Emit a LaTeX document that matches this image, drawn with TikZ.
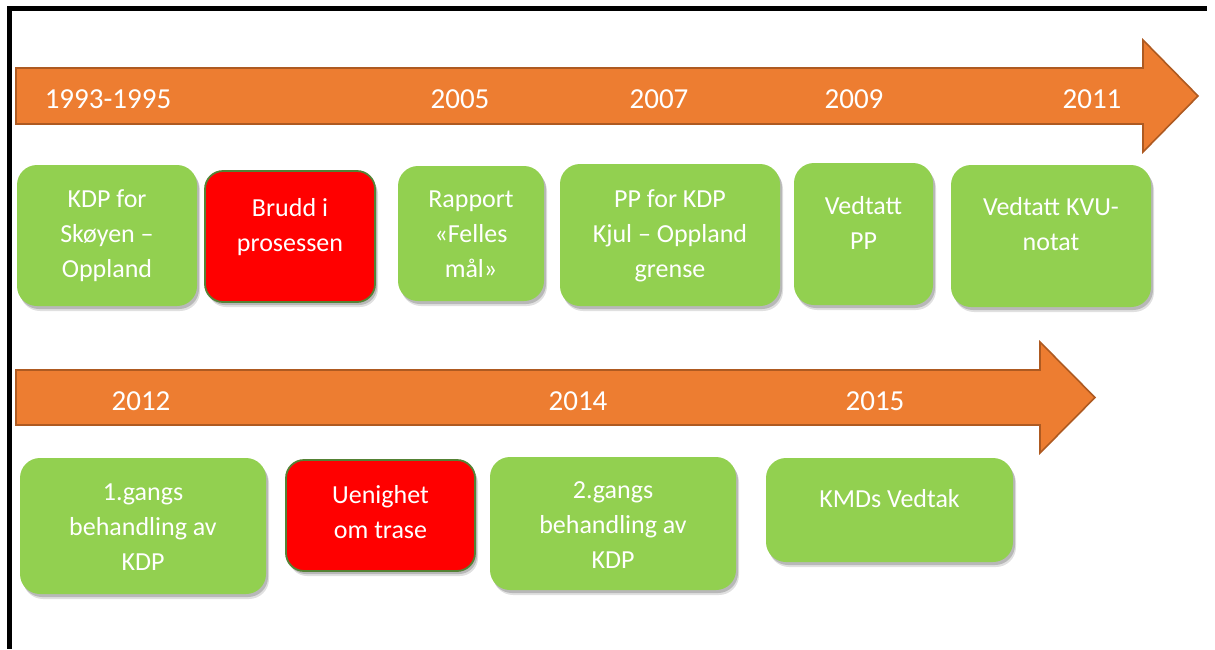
\documentclass[tikz,border=0pt]{standalone}
\usepackage{fontspec}
\setmainfont{Carlito}
\usetikzlibrary{shadows}
\definecolor{arroworange}{HTML}{ED7D31}
\definecolor{arrowedge}{HTML}{AE5A21}
\definecolor{boxgreen}{HTML}{92D050}
\definecolor{boxred}{HTML}{FF0000}
\definecolor{rededge}{HTML}{548235}
\tikzset{
  frameline/.style={line width=4.6pt, black},
  timearrow/.style={fill=arroworange, draw=arrowedge, line width=1.6pt, line join=miter},
  yeartext/.style={text=white, font=\fontsize{29}{35}\selectfont, anchor=base, inner sep=0pt},
  boxtext/.style={text=white, font=\fontsize{26}{35}\selectfont, anchor=base, align=center, inner sep=0pt},
  softshadow/.style={
    preaction={fill=black, opacity=0.12, transform canvas={xshift=3pt, yshift=-5pt}},
    preaction={fill=black, opacity=0.18, transform canvas={xshift=2pt, yshift=-3pt}}},
  box/.style={rounded corners=20pt, inner sep=0pt, softshadow},
  greenbox/.style={box, fill=boxgreen},
  redbox/.style={box, fill=boxred, draw=rededge, line width=1.8pt, rounded corners=18pt},
}
\begin{document}
\begin{tikzpicture}[x=1pt,y=-1pt]
\useasboundingbox (0,0) rectangle (1215,649);
% frame
\coordinate (fl1) at (9.7,6);
\coordinate (fl2) at (9.7,649);
\coordinate (ft1) at (7.4,8.5);
\coordinate (ft2) at (1207,8.5);
\draw[frameline] (fl1) -- (fl2);
\draw[frameline] (ft1) -- (ft2);
% arrows
\draw[timearrow] (16,68) -- (1143,68) -- (1143,40) -- (1198,96) -- (1143,152) -- (1143,124) -- (16,124) -- cycle;
\draw[timearrow] (16,370) -- (1040,370) -- (1040,342) -- (1095,397.5) -- (1040,453) -- (1040,425) -- (16,425) -- cycle;
% years
\node[yeartext] (y1) at (108,108) {1993-1995};
\node[yeartext] (y2) at (460,108) {2005};
\node[yeartext] (y3) at (659,108) {2007};
\node[yeartext] (y4) at (854,108) {2009};
\node[yeartext] (y5) at (1092,108) {2011};
\node[yeartext] (y6) at (141,410) {2012};
\node[yeartext] (y7) at (578,410) {2014};
\node[yeartext] (y8) at (875,410) {2015};
% row 1 boxes
\node[greenbox, minimum width=180pt, minimum height=141pt] (b1) at (107,235.5) {};
\node[redbox, minimum width=170pt, minimum height=131pt] (b2) at (290,236.5) {};
\node[greenbox, minimum width=146pt, minimum height=135pt] (b3) at (471,233.5) {};
\node[greenbox, minimum width=220pt, minimum height=142pt] (b4) at (670,235) {};
\node[greenbox, minimum width=139pt, minimum height=142pt] (b5) at (863.5,234) {};
\node[greenbox, minimum width=200pt, minimum height=142pt] (b6) at (1051,236) {};
% row 2 boxes
\node[greenbox, minimum width=246pt, minimum height=136pt] (c1) at (143,526) {};
\node[redbox, minimum width=189pt, minimum height=111pt] (c2) at (380.5,515.5) {};
\node[greenbox, minimum width=246pt, minimum height=133pt] (c3) at (613,523.5) {};
\node[greenbox, minimum width=247pt, minimum height=104pt] (c4) at (889.5,510) {};
% texts (anchor = baseline of last line)
\node[boxtext] (tb1) at (107,277) {KDP for\\Skøyen –\\Oppland};
\node[boxtext] (tb2) at (290,251) {Brudd i\\prosessen};
\node[boxtext] (tb3) at (471,277) {Rapport\\«Felles\\mål»};
\node[boxtext] (tb4) at (670,277) {PP for KDP\\Kjul – Oppland\\grense};
\node[boxtext] (tb5) at (863.5,249) {Vedtatt\\PP};
\node[boxtext] (tb6) at (1051,250) {Vedtatt KVU-\\notat};
\node[boxtext] (tc1) at (143,570) {1.gangs\\behandling av\\KDP};
\node[boxtext] (tc2) at (380.5,538) {Uenighet\\om trase};
\node[boxtext] (tc3) at (613,568) {2.gangs\\behandling av\\KDP};
\node[boxtext] (tc4) at (889.5,507) {KMDs Vedtak};
\end{tikzpicture}
\end{document}
